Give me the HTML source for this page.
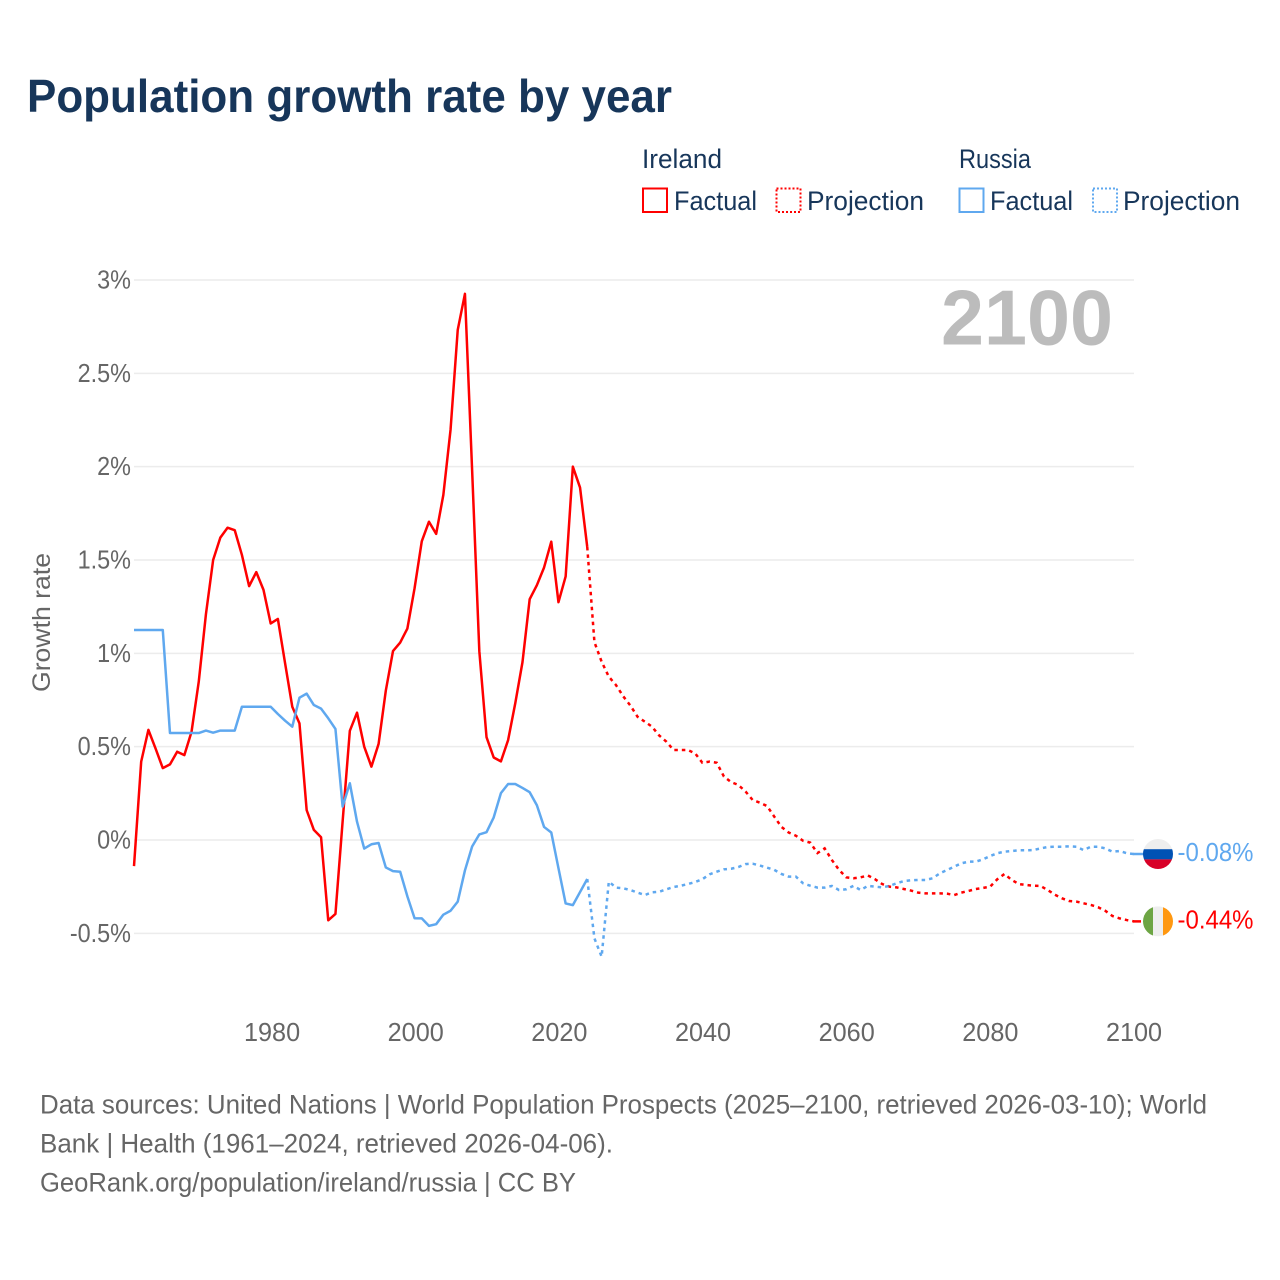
<!DOCTYPE html>
<html lang="en">
<head>
<meta charset="utf-8">
<title>Population growth rate by year</title>
<style>
html,body{margin:0;padding:0;background:#fff;}
svg{display:block;}
text{font-family:"Liberation Sans",sans-serif;}
</style>
</head>
<body>
<svg id="chart" xmlns="http://www.w3.org/2000/svg" width="1280" height="1280" viewBox="0 0 1280 1280">
  <rect x="0" y="0" width="1280" height="1280" fill="#ffffff"/>
  <text x="27" y="112" font-size="46" font-weight="700" fill="#17365a" textLength="645" lengthAdjust="spacingAndGlyphs">Population growth rate by year</text>

  <g>
    <text x="642" y="168" font-size="27" fill="#17365a" textLength="80" lengthAdjust="spacingAndGlyphs">Ireland</text>
    <text x="959" y="168" font-size="27" fill="#17365a" textLength="72" lengthAdjust="spacingAndGlyphs">Russia</text>
    <g>
      <rect x="643" y="188.5" width="24" height="23.5" fill="none" stroke="#ff0000" stroke-width="2"/>
      <text x="674" y="210" font-size="27" fill="#17365a" textLength="83" lengthAdjust="spacingAndGlyphs">Factual</text>
    </g>
    <g>
      <rect x="776.5" y="188.5" width="24" height="23.5" fill="none" stroke="#ff0000" stroke-width="2" stroke-dasharray="2 2"/>
      <text x="807" y="210" font-size="27" fill="#17365a" textLength="117" lengthAdjust="spacingAndGlyphs">Projection</text>
    </g>
    <g>
      <rect x="959.5" y="188.5" width="24" height="23.5" fill="none" stroke="#5fa8ef" stroke-width="2"/>
      <text x="990" y="210" font-size="27" fill="#17365a" textLength="83" lengthAdjust="spacingAndGlyphs">Factual</text>
    </g>
    <g>
      <rect x="1093" y="188.5" width="24" height="23.5" fill="none" stroke="#5fa8ef" stroke-width="2" stroke-dasharray="2 2"/>
      <text x="1123" y="210" font-size="27" fill="#17365a" textLength="117" lengthAdjust="spacingAndGlyphs">Projection</text>
    </g>
  </g>

  <g id="grid"></g>
  <g id="yticks"></g>
  <g id="xticks"></g>
  <text transform="translate(50,692) rotate(-90)" font-size="25" fill="#666666" textLength="139" lengthAdjust="spacingAndGlyphs">Growth rate</text>
  <text x="941" y="344.5" font-size="78" font-weight="700" fill="#bcbcbc" textLength="172" lengthAdjust="spacingAndGlyphs">2100</text>

  <g id="series"></g>

  <g id="flag-russia">
    <clipPath id="clip-russia"><circle id="clip-russia-circle" r="15"/></clipPath>
    <g id="flag-russia-body" clip-path="url(#clip-russia)"></g>
  </g>
  <g id="flag-ireland">
    <clipPath id="clip-ireland"><circle id="clip-ireland-circle" r="15"/></clipPath>
    <g id="flag-ireland-body" clip-path="url(#clip-ireland)"></g>
  </g>
  <g id="end-labels"></g>

  <g font-size="27" fill="#666666">
    <text x="40" y="1113.5" textLength="1167" lengthAdjust="spacingAndGlyphs">Data sources: United Nations | World Population Prospects (2025–2100, retrieved 2026-03-10); World</text>
    <text x="40" y="1152.5" textLength="573" lengthAdjust="spacingAndGlyphs">Bank | Health (1961–2024, retrieved 2026-04-06).</text>
    <text x="40" y="1191.5" textLength="536" lengthAdjust="spacingAndGlyphs">GeoRank.org/population/ireland/russia | CC BY</text>
  </g>
</svg>

<script>
var factualStartYear = 1961;
var projectionStartYear = 2024;

var xTickYears = [1980, 2000, 2020, 2040, 2060, 2080, 2100];
var yTickValues = [3, 2.5, 2, 1.5, 1, 0.5, 0, -0.5];
var yTickLabels = ["3%", "2.5%", "2%", "1.5%", "1%", "0.5%", "0%", "-0.5%"];

var irelandFactual = [
  -0.14, 0.42, 0.59, 0.49, 0.385, 0.405, 0.473, 0.455, 0.58,
  0.848, 1.21, 1.5, 1.62, 1.673, 1.66, 1.527, 1.36, 1.435, 1.34,
  1.16, 1.184, 0.947, 0.714, 0.625, 0.16, 0.054, 0.015, -0.43, -0.396,
  0.1, 0.585, 0.682, 0.5, 0.393, 0.515, 0.8, 1.012, 1.058, 1.133,
  1.349, 1.6, 1.705, 1.64, 1.849, 2.198, 2.733, 2.926, 1.98, 1.012,
  0.551, 0.442, 0.421, 0.535, 0.733, 0.953, 1.29, 1.365, 1.46, 1.598,
  1.274, 1.412, 2.0, 1.888, 1.57
];

var irelandProjection = [
  1.57, 1.06, 0.955, 0.875, 0.83, 0.77,
  0.72, 0.66, 0.634, 0.607, 0.56, 0.527, 0.482, 0.482, 0.482, 0.464,
  0.414, 0.42, 0.414, 0.34, 0.31, 0.295, 0.26, 0.214, 0.2, 0.182,
  0.125, 0.07, 0.04, 0.023, -0.004, -0.014, -0.07, -0.045, -0.107, -0.16,
  -0.2, -0.205, -0.2, -0.19, -0.21, -0.236, -0.25, -0.254, -0.2625, -0.271,
  -0.282, -0.286, -0.286, -0.286, -0.2875, -0.295, -0.282, -0.273, -0.2625, -0.257,
  -0.25, -0.21, -0.182, -0.214, -0.236, -0.241, -0.245, -0.246, -0.268, -0.293,
  -0.3125, -0.327, -0.33, -0.339, -0.348, -0.36, -0.379, -0.407, -0.42, -0.429,
  -0.436
];

var russiaFactual = [
  1.125, 1.125, 1.125, 1.125, 1.125, 0.573, 0.573, 0.573, 0.573,
  0.573, 0.586, 0.575, 0.586, 0.586, 0.586, 0.714, 0.714, 0.714, 0.714,
  0.714, 0.675, 0.639, 0.607, 0.7625, 0.784, 0.723, 0.704, 0.652, 0.595,
  0.179, 0.304, 0.098, -0.046, -0.023, -0.016, -0.147, -0.167, -0.17, -0.302,
  -0.419, -0.42, -0.46, -0.451, -0.4, -0.379, -0.33, -0.163, -0.035, 0.03,
  0.042, 0.121, 0.251, 0.3, 0.3, 0.279, 0.256, 0.186, 0.07, 0.04,
  -0.151, -0.34, -0.349, -0.279, -0.209
];

var russiaProjection = [
  -0.209, -0.527, -0.625, -0.223, -0.255, -0.259,
  -0.268, -0.282, -0.295, -0.28, -0.277, -0.264, -0.252, -0.245, -0.236, -0.225,
  -0.21, -0.184, -0.17, -0.157, -0.154, -0.145, -0.129, -0.127, -0.137, -0.148,
  -0.16, -0.182, -0.196, -0.196, -0.232, -0.245, -0.255, -0.255, -0.246, -0.268,
  -0.264, -0.246, -0.268, -0.246, -0.25, -0.254, -0.246, -0.232, -0.22, -0.216,
  -0.214, -0.214, -0.205, -0.179, -0.161, -0.143, -0.125, -0.116, -0.116, -0.104,
  -0.086, -0.071, -0.0625, -0.059, -0.055, -0.055, -0.054, -0.045, -0.0375, -0.036,
  -0.036, -0.034, -0.036, -0.054, -0.036, -0.036, -0.045, -0.0625, -0.059, -0.071,
  -0.075
];

var endValueLabels = ["-0.08%", "-0.44%"];

var SVG_NS = "http://www.w3.org/2000/svg";
var RED = "#ff0000";
var BLUE = "#5fa8ef";

function xScale(year) {
  return 134 + (year - 1961) * (1000 / 139);
}
function xLabelScale(year) {
  return 1134 - (2100 - year) * 7.183;
}
function yScale(value) {
  return 840 - value * (560 / 3);
}
function make(tag, attrs, parent) {
  var el = document.createElementNS(SVG_NS, tag);
  for (var key in attrs) {
    el.setAttribute(key, attrs[key]);
  }
  parent.appendChild(el);
  return el;
}
function narrow(label, factor) {
  label.setAttribute("textLength", (label.getComputedTextLength() * factor).toFixed(2));
  label.setAttribute("lengthAdjust", "spacingAndGlyphs");
}
function pointsFrom(startYear, values) {
  return values.map(function (v, i) {
    return xScale(startYear + i).toFixed(2) + "," + yScale(v).toFixed(2);
  }).join(" ");
}

var grid = document.getElementById("grid");
var yticks = document.getElementById("yticks");
yTickValues.forEach(function (v, i) {
  var line = make("line", {
    x1: 134, x2: 1134, y1: yScale(v), y2: yScale(v),
    stroke: "#ececec", "stroke-width": 1.5
  }, grid);
  
  
  var label = make("text", {
    x: 131, y: yScale(v) + 8.5, "text-anchor": "end",
    "font-size": 26, fill: "#666666"
  }, yticks);
  label.textContent = yTickLabels[i];
  
  
  narrow(label, 0.9);
});

var xticks = document.getElementById("xticks");
xTickYears.forEach(function (year) {
  var label = make("text", {
    x: xLabelScale(year), y: 1041, "text-anchor": "middle",
    "font-size": 26, fill: "#666666"
  }, xticks);
  label.textContent = String(year);
  
  
  narrow(label, 0.97);
});

var series = document.getElementById("series");

var irelandFactualLine = make("polyline", {
  points: pointsFrom(factualStartYear, irelandFactual),
  fill: "none", stroke: RED, "stroke-width": 2.5, "stroke-linejoin": "round"
}, series);



var irelandProjectionLine = make("polyline", {
  points: pointsFrom(projectionStartYear, irelandProjection),
  fill: "none", stroke: RED, "stroke-width": 2.5, "stroke-dasharray": "3.5 4"
}, series);



var russiaFactualLine = make("polyline", {
  points: pointsFrom(factualStartYear, russiaFactual),
  fill: "none", stroke: BLUE, "stroke-width": 2.5, "stroke-linejoin": "round"
}, series);



var russiaProjectionLine = make("polyline", {
  points: pointsFrom(projectionStartYear, russiaProjection),
  fill: "none", stroke: BLUE, "stroke-width": 2.5, "stroke-dasharray": "3.5 4"
}, series);



var flagX = 1158;
var russiaY = yScale(russiaProjection[russiaProjection.length - 1]);
var irelandY = yScale(irelandProjection[irelandProjection.length - 1]);

var russiaLeader = make("line", { x1: 1133, x2: 1145, y1: russiaY, y2: russiaY, stroke: BLUE, "stroke-width": 2.5 }, series);


var irelandLeader = make("line", { x1: 1133, x2: 1141, y1: irelandY, y2: irelandY, stroke: RED, "stroke-width": 2.5 }, series);



var rcc = document.getElementById("clip-russia-circle");
rcc.setAttribute("cx", flagX);
rcc.setAttribute("cy", russiaY);
var rb = document.getElementById("flag-russia-body");
var rBands = [["#eeeeee", -15, 10.2], ["#0052b4", -4.8, 10.2], ["#d80027", 5.4, 10.2]];
rBands.forEach(function (b) {
  var band = make("rect", { x: flagX - 15, y: russiaY + b[1], width: 30, height: b[2], fill: b[0] }, rb);
  
  
});

var icc = document.getElementById("clip-ireland-circle");
icc.setAttribute("cx", flagX);
icc.setAttribute("cy", irelandY);
var ib = document.getElementById("flag-ireland-body");
var iBands = [["#6da544", -15, 10], ["#eeeeee", -5, 10], ["#ff9811", 5, 10]];
iBands.forEach(function (b) {
  var band = make("rect", { x: flagX + b[1], y: irelandY - 15, width: b[2], height: 30, fill: b[0] }, ib);
  
  
});

var endLabels = document.getElementById("end-labels");
var russiaLabel = make("text", { x: 1177.5, y: russiaY + 7, "font-size": 26, fill: BLUE, textLength: 76, lengthAdjust: "spacingAndGlyphs" }, endLabels);
russiaLabel.textContent = endValueLabels[0];


var irelandLabel = make("text", { x: 1177.5, y: irelandY + 7, "font-size": 26, fill: RED, textLength: 76, lengthAdjust: "spacingAndGlyphs" }, endLabels);
irelandLabel.textContent = endValueLabels[1];


</script>
</body>
</html>
